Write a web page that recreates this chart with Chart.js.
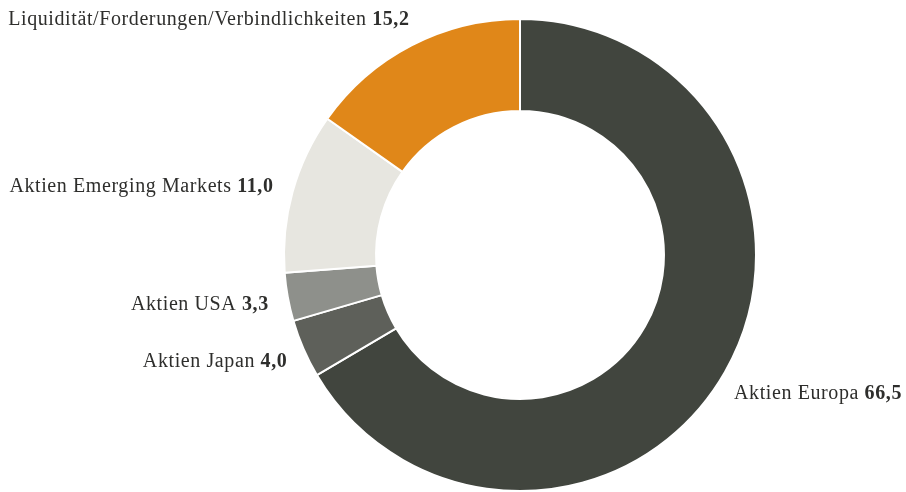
<!DOCTYPE html>
<html><head><meta charset="utf-8">
<script src="https://cdn.jsdelivr.net/npm/chart.js@4/dist/chart.umd.min.js"></script>
<style>html,body{margin:0;padding:0;background:#fff}#w{width:906px;height:492px;position:relative}</style>
</head><body><div id="w"><canvas id="c"></canvas></div>
<script>
const categories = ["Aktien Europa", "Aktien Japan", "Aktien USA", "Aktien Emerging Markets", "Liquidität/Forderungen/Verbindlichkeiten"];
const values = [66.5, 4.0, 3.3, 11.0, 15.2];
const valueLabels = ["66,5", "4,0", "3,3", "11,0", "15,2"];
const colors = ["#41453e", "#5e605a", "#8e908b", "#e7e6e0", "#e08719"];

const labelOffsets = [[9, 27, 'left'], [-16, 18, 'right'], [-19, 13, 'right'], [-19, 0, 'right'], [-2, -20, 'right']];
const FONT = '"Liberation Serif", serif';
const labelPlugin = {
  id: 'labels',
  afterDatasetsDraw(chart) {
    const ctx = chart.ctx;
    const meta = chart.getDatasetMeta(0);
    ctx.save();
    ctx.fillStyle = '#2e2e2c';
    ctx.textBaseline = 'alphabetic';
    ctx.letterSpacing = '0.6px';
    meta.data.forEach((arc, i) => {
      const mid = (arc.startAngle + arc.endAngle) / 2;
      const ax = arc.x + Math.cos(mid) * arc.outerRadius;
      const ay = arc.y + Math.sin(mid) * arc.outerRadius;
      const [dx, dy, align] = labelOffsets[i];
      const x = ax + dx, y = ay + dy;
      const name = categories[i] + ' ';
      const val = valueLabels[i];
      ctx.font = '20px ' + FONT;
      const wn = ctx.measureText(name).width;
      ctx.font = 'bold 20px ' + FONT;
      const wv = ctx.measureText(val).width;
      const x0 = align === 'right' ? x - wn - wv : x;
      ctx.textAlign = 'left';
      ctx.font = '20px ' + FONT;
      ctx.fillText(name, x0, y);
      ctx.font = 'bold 20px ' + FONT;
      ctx.fillText(val, x0 + wn, y);
    });
    ctx.restore();
  }
};

new Chart(document.getElementById('c'), {
  type: 'doughnut',
  data: {
    labels: categories,
    datasets: [{ data: values, backgroundColor: colors, borderColor: '#ffffff', borderWidth: 2 }]
  },
  options: {
    responsive: true,
    maintainAspectRatio: false,
    animation: false,
    cutout: '61%',
    layout: { padding: { left: 283, right: 149, top: 18, bottom: 0 } },
    plugins: { legend: { display: false }, tooltip: { enabled: false } }
  },
  plugins: [labelPlugin]
});
</script></body></html>
